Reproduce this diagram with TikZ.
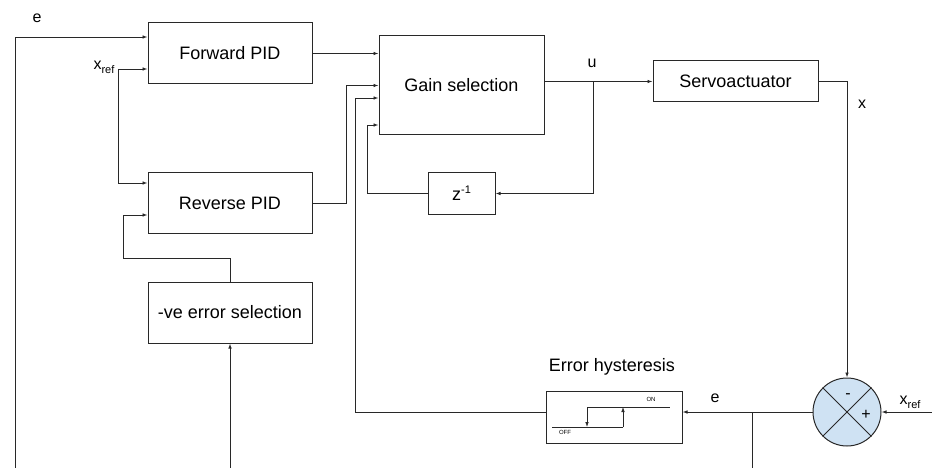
\documentclass[tikz,border=0pt]{standalone}
\usepackage{fontspec}
\setmainfont{Liberation Sans}
\usepackage{tikz}
\usetikzlibrary{arrows.meta, positioning, calc}
\definecolor{SumFill}{RGB}{207,226,243}
\definecolor{LineDark}{RGB}{40,40,40}
\newcommand{\sizebig}{\fontsize{18}{20}\selectfont}
\newcommand{\sizelbl}{\fontsize{16}{18}\selectfont}
\newcommand{\sublbl}[1]{\raisebox{-4pt}{\fontsize{11}{12}\selectfont #1}}

\begin{document}
\begin{tikzpicture}[x=1pt,y=-1pt,
        blk/.style={draw=LineDark,line width=1pt,fill=white,
                    font=\sizebig,inner sep=0pt},
        arr/.style={draw=LineDark,line width=0.9pt,-{Latex[length=5pt,width=3.6pt]}},
        wire/.style={draw=LineDark,line width=0.9pt},
        lbl/.style={font=\sizelbl,inner sep=0pt}
      ]
        \useasboundingbox (0,0) rectangle (932,468);
        % blocks
        \node[blk,minimum width=164pt,minimum height=61pt] (fwd) at (230,53.5) {Forward PID};
        \node[blk,minimum width=164pt,minimum height=60pt] (rev) at (230,203) {Reverse PID};
        \node[blk,minimum width=164pt,minimum height=61pt] (neg) at (230,312.5) {-ve error selection};
        \node[blk,minimum width=165pt,minimum height=99pt] (gain) at (461.5,85.5) {Gain selection};
        \node[blk,minimum width=67pt,minimum height=41pt] (zinv) at (461.5,193.5)
          {z\raisebox{7pt}{\fontsize{11}{12}\selectfont -1}};
        \node[blk,minimum width=165pt,minimum height=41pt] (servo) at (735.5,81.5) {Servoactuator};
        \node[blk,minimum width=136pt,minimum height=52pt] (hyst) at (614,417) {};
        \node[font=\sizebig,inner sep=0pt] (hystlbl) at (612,367) {Error hysteresis};
        \node[circle,draw=LineDark,line width=1pt,fill=SumFill,minimum size=68pt,inner sep=0pt]
          (sum) at (847,412) {};
        \draw[wire] (sum.north west) -- (sum.south east);
        \draw[wire] (sum.north east) -- (sum.south west);
        \node[font=\sizelbl,inner sep=0pt] (minus) at (848,396) {-};
        \node[font=\sizelbl,inner sep=0pt] (plus) at (866,415) {+};
        % free ends
        \coordinate (eend) at (15,468);
        \coordinate (xrl) at (118,69);
        \coordinate (negin) at (230,468);
        \coordinate (ubr) at (593,82);
        \coordinate (xrr) at (932,412);
        \coordinate (ebr) at (752,412);
        \coordinate (ebot) at (752,468);
        % connectors
        \draw[arr] (eend) |- ([yshift=16.5pt]fwd.west);
        \draw[arr] (xrl) -- (fwd.west |- xrl);
        \draw[arr] (xrl) |- ([yshift=20pt]rev.west);
        \draw[arr] (neg.north) |- (123,258) |- ([yshift=-12pt]rev.west);
        \draw[arr] (negin) -- (neg.south);
        \draw[arr] (fwd.east) -- (gain.west |- fwd.east);
        \draw[arr] (rev.east) -- ++(34,0) |- (gain.west);
        \draw[arr] ([yshift=5pt]hyst.west) -| (355,98) -- ([yshift=-12.5pt]gain.west);
        \draw[arr] (zinv.west) -| (367,125) -- ([yshift=-39.5pt]gain.west);
        \draw[arr] (gain.east |- servo.west) -- (servo.west);
        \draw[arr] (ubr) |- (zinv.east);
        \draw[arr] (servo.east) -| (sum.north);
        \draw[arr] (xrr) -- (sum.east);
        \draw[arr] (sum.west) -- (hyst.east |- sum.west);
        \draw[wire] (ebr) -- (ebot);
        % hysteresis curve
        \draw[wire,line width=0.8pt] (552,427) -- (623,427);
        \draw[arr,line width=0.8pt] (623,427) -- (623,407);
        \draw[wire,line width=0.8pt] (587,407) -- (670,407);
        \draw[arr,line width=0.8pt] (587,407) -- (587,427);
        \node[font=\fontsize{6}{7}\selectfont,inner sep=0pt] (onlbl) at (651,399) {ON};
        \node[font=\fontsize{6}{7}\selectfont,inner sep=0pt] (offlbl) at (565,432) {OFF};
        % signal labels
        \node[lbl] (elbl) at (37,18) {e};
        \node[lbl] (xrlbl) at (104,67) {x\sublbl{ref}};
        \node[lbl] (ulbl) at (592,63) {u};
        \node[lbl] (xlbl) at (862,104) {x};
        \node[lbl] (e2lbl) at (715,398) {e};
        \node[lbl] (xr2lbl) at (910,402) {x\sublbl{ref}};
      \end{tikzpicture}
\end{document}
